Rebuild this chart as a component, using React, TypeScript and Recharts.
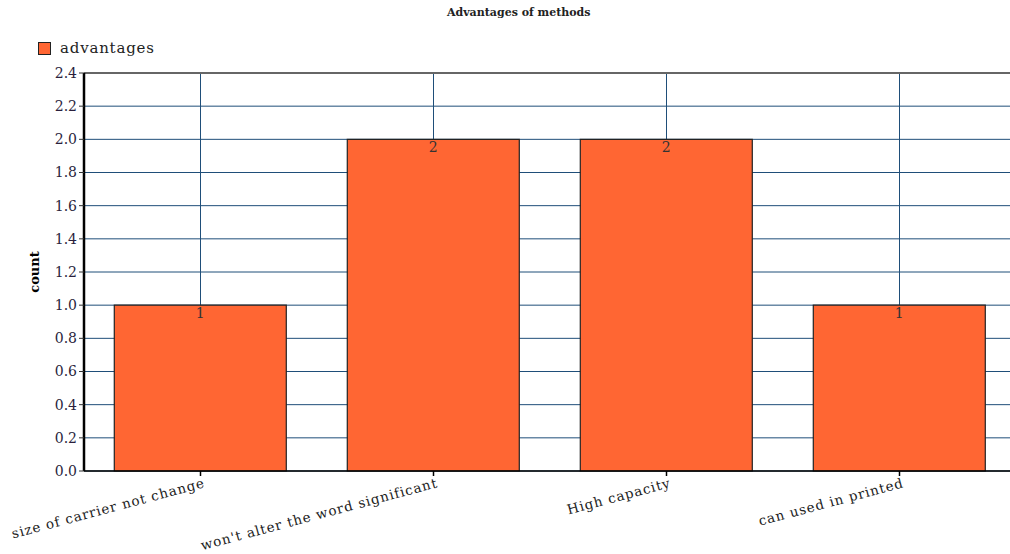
import { Bar, BarChart, CartesianGrid, LabelList, ReferenceLine, XAxis, YAxis } from "recharts";

const categories = ["size of carrier not change", "won't alter the word significant", "High capacity", "can used in printed"];
const advantages = [1, 2, 2, 1];
const yTicks = [0, 0.2, 0.4, 0.6, 0.8, 1.0, 1.2, 1.4, 1.6, 1.8, 2.0, 2.2, 2.4];

const data = categories.map((name, i) => ({ name, advantages: advantages[i] }));

const FONT = "'DejaVu Serif', serif";
const GRID = "#1f4e79";

function XTick({ x, y, payload }: any) {
  return (
    <g>
      <line x1={x} y1={y - 8} x2={x} y2={y - 3} stroke="#000" strokeWidth={1.5} />
      <text
        x={x + 5}
        y={y + 8}
        transform={`rotate(-15, ${x + 5}, ${y + 8})`}
        textAnchor="end"
        fontSize={13.5}
        letterSpacing={0.9}
        fill="#222"
        fontFamily={FONT}
      >
        {payload.value}
      </text>
    </g>
  );
}

export default function App() {
  return (
    <div style={{ position: "absolute", left: 0, top: 0, width: 1040, height: 554, background: "#fff", fontFamily: FONT, overflow: "hidden" }}>
      <div style={{ position: "absolute", left: 447, top: 6, fontSize: 11, fontWeight: "bold", color: "#222", fontFamily: FONT }}>
        Advantages of methods
      </div>
      <div style={{ position: "absolute", left: 38, top: 39, display: "flex", alignItems: "center", fontSize: 15, letterSpacing: 0.8, color: "#222", fontFamily: FONT }}>
        <span style={{ display: "inline-block", width: 11, height: 11, background: "#ff6633", border: "1px solid #222", marginRight: 9 }} />
        advantages
      </div>
      <BarChart width={1040} height={554} data={data} margin={{ top: 73, right: 24, bottom: 0, left: 0 }} barCategoryGap="13%" style={{ fontFamily: FONT }}>
        <CartesianGrid stroke={GRID} strokeWidth={1} />
        <XAxis
          dataKey="name"
          height={83}
          tick={<XTick />}
          tickLine={false}
          axisLine={{ stroke: "#000", strokeWidth: 1.5 }}
          interval={0}
        />
        <YAxis
          width={84}
          domain={[0, 2.4]}
          ticks={yTicks}
          tickFormatter={(v: number) => v.toFixed(1)}
          tick={{ fontSize: 14, fill: "#2a1f3d", fontFamily: FONT }}
          tickSize={5}
          tickLine={{ stroke: "#333" }}
          axisLine={{ stroke: "#000", strokeWidth: 2.5 }}
          label={{ value: "count", angle: -90, position: "center", dx: -8, fontSize: 13, fontWeight: "bold", fill: "#000", fontFamily: FONT }}
        />
        <ReferenceLine y={2.4} stroke="#666" strokeWidth={2} />
        <Bar dataKey="advantages" fill="#ff6633" stroke="#222" strokeWidth={1.2} isAnimationActive={false}>
          <LabelList dataKey="advantages" position="insideTop" offset={3} fontSize={14} fill="#333" fontFamily={FONT} />
        </Bar>
      </BarChart>
    </div>
  );
}
